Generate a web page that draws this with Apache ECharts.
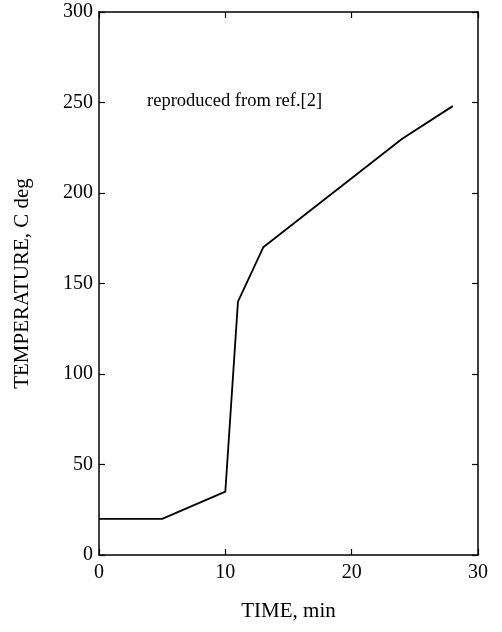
<!DOCTYPE html>
<html>
<head>
<meta charset="utf-8">
<script src="https://cdn.jsdelivr.net/npm/echarts@6/dist/echarts.min.js"></script>
<style>html,body{margin:0;padding:0;background:#fff}#c{width:502px;height:632px}</style>
</head>
<body>
<div id="c"></div>
<script>
const timeMin = [0, 5, 10, 11, 13, 24, 28];
const temperature = [20, 20, 35, 140, 170, 230, 248];
const xTicks = [0, 10, 20, 30];
const yTicks = [0, 50, 100, 150, 200, 250, 300];
const annotation = 'reproduced from ref.[2]';
const annotationAt = [3.8, 251];

const FONT = '"Liberation Serif", "DejaVu Serif", serif';
const chart = echarts.init(document.getElementById('c'));
const axisCommon = {
  axisLine: { show: true, onZero: false, lineStyle: { color: '#000', width: 1.5 } },
  axisTick: { show: true, inside: true, length: 6, lineStyle: { color: '#000', width: 1.2 } },
  splitLine: { show: false }
};
chart.setOption({
  animation: false,
  backgroundColor: '#fff',
  grid: { left: 99, right: 24, top: 12, bottom: 77 },
  xAxis: [
    Object.assign({}, axisCommon, {
      type: 'value', min: 0, max: 30, interval: 10, position: 'bottom',
      name: 'TIME, min', nameLocation: 'middle', nameGap: 46,
      nameTextStyle: { fontFamily: FONT, fontSize: 21, color: '#000' },
      axisLabel: { fontFamily: FONT, fontSize: 20, color: '#000', margin: 8 }
    }),
    Object.assign({}, axisCommon, {
      type: 'value', min: 0, max: 30, interval: 10, position: 'top',
      axisLabel: { show: false }
    })
  ],
  yAxis: [
    Object.assign({}, axisCommon, {
      type: 'value', min: 0, max: 300, interval: 50, position: 'left',
      name: 'TEMPERATURE, C deg', nameLocation: 'middle', nameGap: 66, nameRotate: 90,
      nameTextStyle: { fontFamily: FONT, fontSize: 21, color: '#000' },
      axisLabel: { fontFamily: FONT, fontSize: 20, color: '#000', margin: 6 }
    }),
    Object.assign({}, axisCommon, {
      type: 'value', min: 0, max: 300, interval: 50, position: 'right',
      axisLabel: { show: false }
    })
  ],
  series: [{
    type: 'line',
    data: timeMin.map((t, i) => [t, temperature[i]]),
    symbol: 'none',
    lineStyle: { color: '#000', width: 1.8 }
  }]
});
const p = chart.convertToPixel({ gridIndex: 0 }, annotationAt);
chart.setOption({
  graphic: [{
    type: 'text', x: p[0], y: p[1],
    style: { text: annotation, font: '18.5px ' + FONT, fill: '#000', textAlign: 'left', textVerticalAlign: 'middle' }
  }]
});
</script>
</body>
</html>
